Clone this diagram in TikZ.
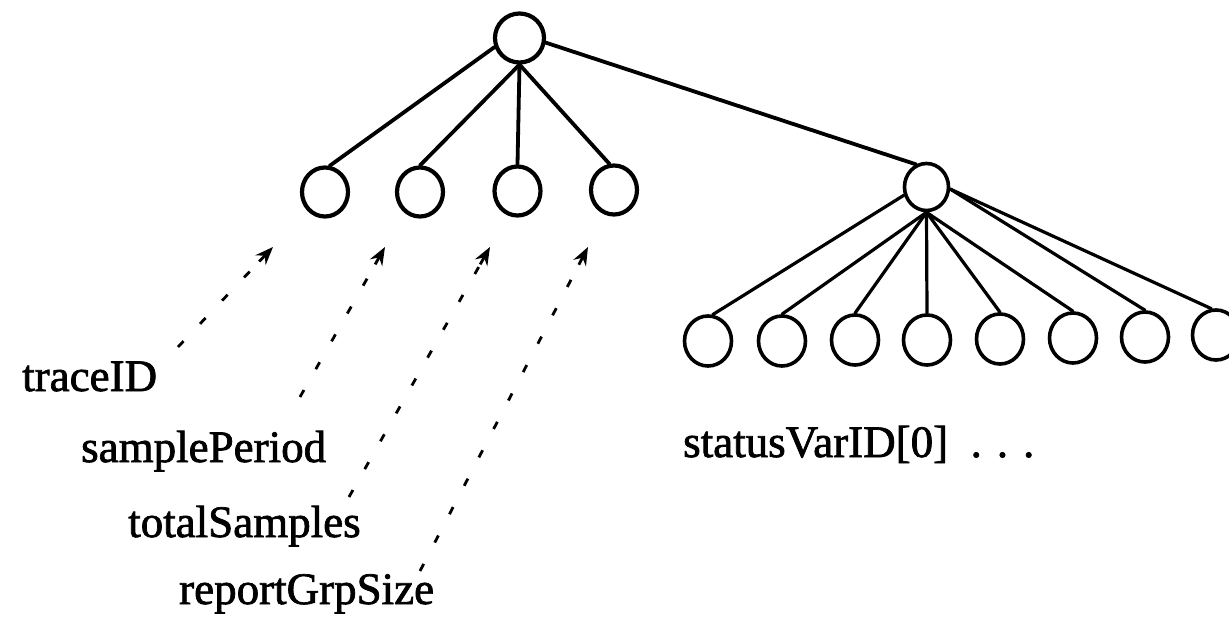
\documentclass[tikz,border=0pt]{standalone}
\usepackage{fontspec}
\setmainfont{Liberation Serif}
\newfontfamily\heavyserif{Liberation Serif}[FakeBold=1.6]
\usetikzlibrary{arrows.meta,shapes.geometric,calc}
\begin{document}
\begin{tikzpicture}[x=1pt,y=-1pt,
  vertex/.style={draw,ellipse,line width=4.2pt,minimum width=46pt,minimum height=49pt,inner sep=0pt},
  leafnode/.style={draw,ellipse,line width=3.6pt,minimum width=47pt,minimum height=50pt,inner sep=0pt},
  treeline/.style={line width=3.8pt,line cap=round},
  thinline/.style={line width=3.2pt,line cap=round},
  refline/.style={line width=2.8pt,dash pattern=on 8pt off 24pt},
  reftip/.style={line width=2.8pt,-{Stealth[length=18pt,width=14pt,inset=6pt]}},
  fieldtext/.style={anchor=base west,inner sep=0pt,font=\heavyserif\fontsize{45}{54}\selectfont}
]
\fill[white] (0,0) rectangle (1229,626);
\useasboundingbox (0,0) rectangle (1229,626);

% root and its first level
\node[vertex,minimum width=49pt,minimum height=49pt] (root) at (519.5,38) {};
\node[vertex] (c1) at (325,192) {};
\node[vertex] (c2) at (420,192) {};
\node[vertex] (c3) at (517.5,191) {};
\node[vertex] (c4) at (614,190) {};
\node[leafnode,minimum width=44pt,minimum height=47pt] (sv) at (926.5,187) {};

% status variable leaves
\node[leafnode] (s1) at (708,341) {};
\node[leafnode] (s2) at (782,341) {};
\node[leafnode] (s3) at (855,340) {};
\node[leafnode] (s4) at (927,340) {};
\node[leafnode] (s5) at (1000,339) {};
\node[leafnode] (s6) at (1073,338) {};
\node[leafnode] (s7) at (1145,337) {};
\node[leafnode] (s8) at (1216,335) {};

% edges of the upper tree
\draw[treeline] (root.200) -- (c1.80);
\draw[treeline] (root.south) -- (c2.north);
\draw[treeline] (root.south) -- (c3.north);
\draw[treeline] (root.south) -- (c4.100);
\draw[treeline] (root.-10) -- (sv.115);

% edges of the status subtree
\draw[thinline] (sv.200) -- (s1.80);
\foreach \k in {2,...,6} \draw[thinline] (sv.south) -- (s\k.north);
\draw[thinline] (sv.-5) -- (s7.north);
\draw[thinline] (sv.-5) -- (s8.100);

% field labels
\node[fieldtext] (tid) at (22,391) {traceID};
\node[fieldtext] (sp) at (81,462) {samplePeriod};
\node[fieldtext] (ts) at (128,537) {totalSamples};
\node[fieldtext] (rg) at (179,604) {reportGrpSize};
\node[fieldtext] (st) at (683,457) {statusVarID[0] \ . . .};

% dotted references from the labels to the fields
\coordinate (t1) at (178,347);
\coordinate (t2) at (300,397);
\coordinate (t3) at (349,497);
\coordinate (t4) at (420,571);
\coordinate (h1) at (273,247);
\coordinate (h2) at (385,247);
\coordinate (h3) at (490,247);
\coordinate (h4) at (588,247);
\foreach \i in {1,...,4} {
  \draw[refline] (t\i) -- ($(h\i)!14pt!(t\i)$);
  \draw[reftip] ($(h\i)!20pt!(t\i)$) -- (h\i);
}
\end{tikzpicture}
\end{document}
